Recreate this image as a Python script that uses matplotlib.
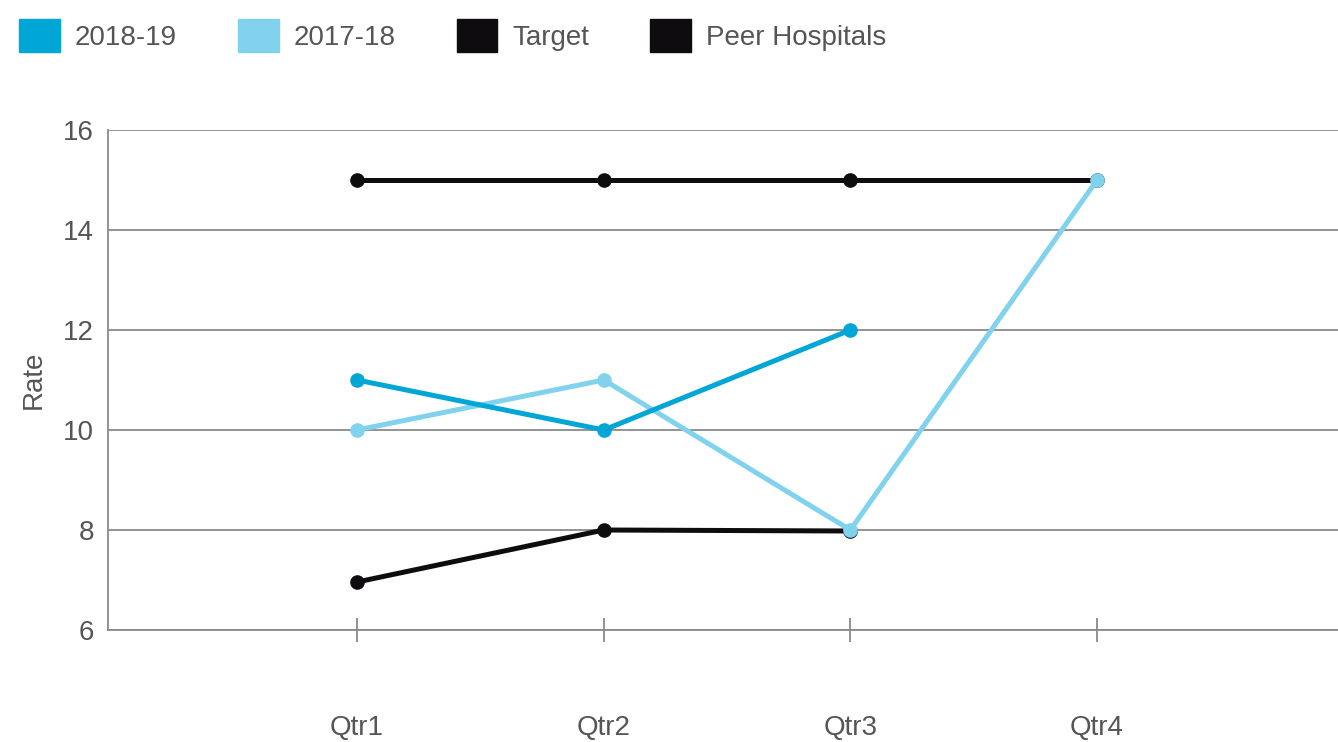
import matplotlib
matplotlib.use("Agg")
import matplotlib.pyplot as plt
from matplotlib.patches import Patch

quarters = ["Qtr1", "Qtr2", "Qtr3", "Qtr4"]
rate_2018_19 = [11, 10, 12]
rate_2017_18 = [10, 11, 8, 15]
target = [15, 15, 15, 15]
peer_hospitals = [6.96, 8, 7.98]

C_1819 = "#00a6d6"
C_1718 = "#80d2ed"
C_BLACK = "#0f0c10"
TXT = "#555555"
GRID = "#8a8a8a"

plt.rcParams["font.family"] = ["Liberation Sans", "DejaVu Sans"]

fig = plt.figure(figsize=(13.38, 7.42), dpi=100)
ax = fig.add_axes([108 / 1338, 112 / 742, 1 - 108 / 1338, 500 / 742])

x = [1, 2, 3, 4]
lw, ms = 3.6, 9.5
ax.plot(x, target, color=C_BLACK, lw=lw, marker="o", ms=ms, zorder=3)
ax.plot(x[:3], peer_hospitals, color=C_BLACK, lw=lw, marker="o", ms=ms, zorder=3)
ax.plot(x, rate_2017_18, color=C_1718, lw=lw, marker="o", ms=ms, zorder=4)
ax.plot(x[:3], rate_2018_19, color=C_1819, lw=lw, marker="o", ms=ms, zorder=5)

ax.set_xlim(-0.01, 4.977)
ax.set_ylim(6, 16)
ax.set_yticks([6, 8, 10, 12, 14, 16])
ax.set_xticks(x)
ax.set_xticklabels(quarters)

ax.grid(axis="y", color=GRID, lw=1.3)
ax.set_axisbelow(True)
for s in ["top", "right"]:
    ax.spines[s].set_visible(False)
for s in ["left", "bottom"]:
    ax.spines[s].set_color(GRID)
    ax.spines[s].set_linewidth(1.3)

ax.tick_params(axis="y", length=0, pad=10, labelsize=20, labelcolor=TXT)
ax.tick_params(axis="x", direction="inout", length=17, width=1.3, color=GRID,
               pad=53, labelsize=20, labelcolor=TXT)
ax.set_ylabel("Rate", fontsize=20, color=TXT, labelpad=12)

handles = [Patch(color=C_1819), Patch(color=C_1718), Patch(color=C_BLACK), Patch(color=C_BLACK)]
labels = ["2018-19", "2017-18", "Target", "Peer Hospitals"]
fig.legend(handles, labels, loc="upper left", bbox_to_anchor=(0.0, 1.0), ncol=4,
           frameon=False, fontsize=20, labelcolor=TXT, handlelength=1.45,
           handleheight=1.45, handletextpad=0.55, columnspacing=2.2,
           borderaxespad=0.3)

fig.savefig("out.png", dpi=100)
